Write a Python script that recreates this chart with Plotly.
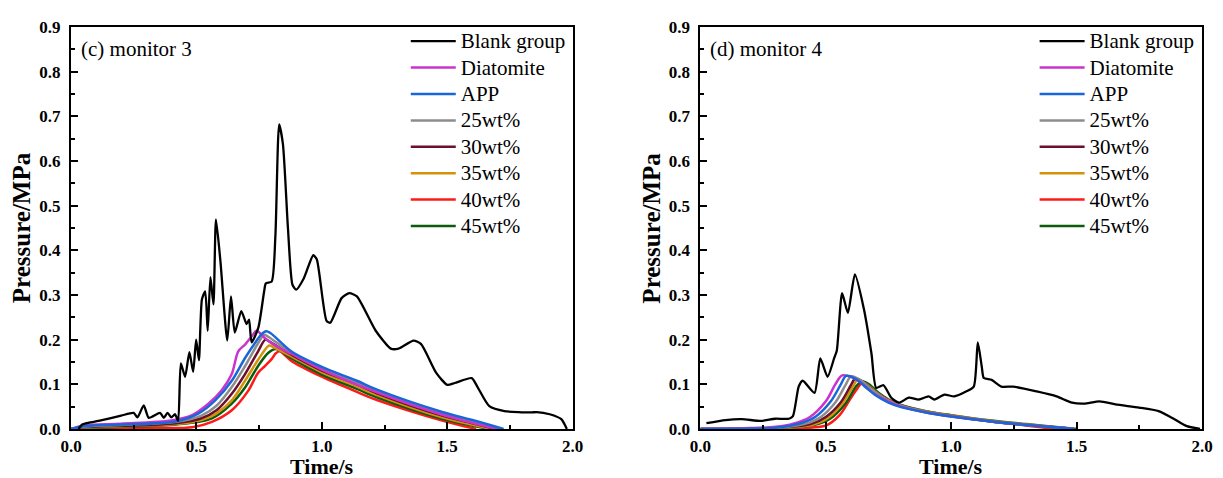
import plotly.graph_objects as go
from plotly.subplots import make_subplots

series_names = ["Blank group", "Diatomite", "APP", "25wt%", "30wt%", "35wt%", "40wt%", "45wt%"]
series_colors = ["#000000", "#cc33cc", "#1a66d9", "#8c8c8c", "#6b0f2f", "#d4920a", "#ff1a1a", "#0d5c0d"]
panel_labels = ["(c) monitor 3", "(d) monitor 4"]
x_ticks = [0.0, 0.5, 1.0, 1.5, 2.0]
y_ticks = [0.0, 0.1, 0.2, 0.3, 0.4, 0.5, 0.6, 0.7, 0.8, 0.9]

# ---------------- monitor 3 ----------------
blank3_t = [0.03, 0.045, 0.11, 0.2, 0.25, 0.265, 0.29, 0.31, 0.355, 0.37, 0.385, 0.40, 0.415, 0.427,
            0.438, 0.455, 0.472, 0.487, 0.499, 0.51, 0.522, 0.535, 0.545, 0.556, 0.568, 0.578, 0.596,
            0.623, 0.638, 0.653, 0.679, 0.70, 0.71, 0.72, 0.747, 0.77, 0.777, 0.80, 0.815, 0.83, 0.845,
            0.865, 0.883, 0.898, 0.928, 0.966, 0.98, 1.019, 1.034, 1.079, 1.11, 1.14, 1.215, 1.275,
            1.306, 1.366, 1.396, 1.457, 1.50, 1.53, 1.598, 1.62, 1.668, 1.728, 1.834, 1.857, 1.909,
            1.955, 1.977]
blank3_p = [0.0, 0.01, 0.018, 0.03, 0.036, 0.026, 0.053, 0.025, 0.036, 0.025, 0.036, 0.026, 0.033, 0.018,
            0.147, 0.117, 0.172, 0.128, 0.2, 0.154, 0.29, 0.308, 0.22, 0.34, 0.279, 0.469, 0.374,
            0.198, 0.297, 0.216, 0.264, 0.235, 0.245, 0.194, 0.227, 0.308, 0.326, 0.33, 0.433, 0.682, 0.638,
            0.45, 0.323, 0.312, 0.337, 0.389, 0.38, 0.242, 0.238, 0.293, 0.304, 0.297, 0.22, 0.18,
            0.18, 0.198, 0.19, 0.125, 0.099, 0.103, 0.114, 0.095, 0.051, 0.04, 0.037, 0.038, 0.033,
            0.022, 0.0]

diat3_t = [0.0, 0.05, 0.2, 0.4, 0.483, 0.549, 0.6, 0.641, 0.667, 0.694, 0.72, 0.74, 0.77, 0.82, 0.88, 1.0, 1.22, 1.48, 1.70]
diat3_p = [0.0, 0.008, 0.012, 0.019, 0.031, 0.057, 0.086, 0.123, 0.174, 0.189, 0.207, 0.22, 0.205, 0.185, 0.168, 0.133, 0.082, 0.032, 0.0]

app3_t = [0.0, 0.05, 0.2, 0.417, 0.509, 0.575, 0.641, 0.694, 0.733, 0.759, 0.778, 0.795, 0.878, 1.0, 1.14, 1.22, 1.48, 1.6, 1.725]
app3_p = [0.0, 0.006, 0.01, 0.017, 0.035, 0.064, 0.108, 0.159, 0.192, 0.212, 0.219, 0.215, 0.174, 0.139, 0.108, 0.088, 0.038, 0.02, 0.0]

w25_3_t = [0.0, 0.05, 0.2, 0.42, 0.52, 0.58, 0.641, 0.694, 0.746, 0.77, 0.785, 0.88, 1.0, 1.14, 1.22, 1.48, 1.6, 1.715]
w25_3_p = [0.0, 0.005, 0.009, 0.016, 0.03, 0.052, 0.094, 0.141, 0.192, 0.211, 0.207, 0.17, 0.135, 0.104, 0.084, 0.034, 0.016, 0.0]

w30_3_t = [0.0, 0.05, 0.2, 0.42, 0.52, 0.58, 0.641, 0.694, 0.746, 0.775, 0.79, 0.88, 1.0, 1.14, 1.22, 1.48, 1.6, 1.695]
w30_3_p = [0.0, 0.004, 0.007, 0.013, 0.024, 0.042, 0.079, 0.123, 0.174, 0.2, 0.196, 0.166, 0.131, 0.1, 0.08, 0.03, 0.013, 0.0]

w35_3_t = [0.0, 0.05, 0.2, 0.42, 0.52, 0.58, 0.641, 0.694, 0.746, 0.79, 0.805, 0.88, 1.0, 1.14, 1.22, 1.48, 1.68]
w35_3_p = [0.0, 0.003, 0.006, 0.011, 0.02, 0.035, 0.064, 0.108, 0.155, 0.187, 0.184, 0.162, 0.127, 0.095, 0.076, 0.026, 0.0]

w40_3_t = [0.0, 0.1, 0.35, 0.483, 0.562, 0.641, 0.707, 0.746, 0.773, 0.799, 0.818, 0.832, 0.88, 1.0, 1.14, 1.22, 1.48, 1.615]
w40_3_p = [0.0, 0.001, 0.002, 0.004, 0.016, 0.042, 0.086, 0.126, 0.141, 0.156, 0.17, 0.174, 0.152, 0.117, 0.083, 0.065, 0.019, 0.0]

w45_3_t = [0.0, 0.05, 0.2, 0.42, 0.562, 0.641, 0.694, 0.746, 0.786, 0.815, 0.832, 0.88, 1.0, 1.14, 1.22, 1.48, 1.667]
w45_3_p = [0.0, 0.002, 0.005, 0.01, 0.024, 0.057, 0.093, 0.141, 0.17, 0.179, 0.176, 0.158, 0.122, 0.09, 0.071, 0.023, 0.0]

# ---------------- monitor 4 ----------------
blank4_t = [0.024, 0.10, 0.165, 0.243, 0.298, 0.353, 0.369, 0.392, 0.408, 0.455, 0.478, 0.507, 0.533,
            0.544, 0.565, 0.588, 0.616, 0.651, 0.682, 0.701, 0.73, 0.761, 0.792, 0.831, 0.871, 0.91,
            0.933, 0.973, 1.012, 1.059, 1.09, 1.106, 1.122, 1.13, 1.161, 1.2, 1.247, 1.341, 1.42,
            1.482, 1.53, 1.592, 1.655, 1.749, 1.827, 1.89, 1.937, 1.992]
blank4_p = [0.013, 0.02, 0.022, 0.018, 0.023, 0.023, 0.029, 0.095, 0.108, 0.081, 0.158, 0.117, 0.158,
            0.176, 0.304, 0.26, 0.346, 0.271, 0.169, 0.092, 0.098, 0.07, 0.059, 0.07, 0.066, 0.073,
            0.066, 0.077, 0.073, 0.084, 0.095, 0.194, 0.139, 0.114, 0.11, 0.095, 0.095, 0.084, 0.073,
            0.059, 0.057, 0.062, 0.055, 0.048, 0.04, 0.022, 0.007, 0.0]

diat4_t = [0.0, 0.2, 0.3, 0.37, 0.437, 0.5, 0.54, 0.565, 0.6, 0.64, 0.69, 0.75, 0.8, 0.9, 1.0, 1.16, 1.3, 1.45, 1.49]
diat4_p = [0.0, 0.002, 0.005, 0.012, 0.027, 0.062, 0.102, 0.12, 0.117, 0.104, 0.08, 0.061, 0.05, 0.037, 0.028, 0.017, 0.009, 0.002, 0.0]

app4_t = [0.0, 0.2, 0.3, 0.4, 0.46, 0.52, 0.56, 0.581, 0.62, 0.66, 0.7, 0.75, 0.8, 0.9, 1.0, 1.16, 1.3, 1.45, 1.49]
app4_p = [0.0, 0.001, 0.003, 0.013, 0.028, 0.062, 0.1, 0.119, 0.112, 0.093, 0.075, 0.059, 0.049, 0.037, 0.028, 0.017, 0.009, 0.002, 0.0]

w25_4_t = [0.0, 0.2, 0.3, 0.42, 0.48, 0.54, 0.58, 0.601, 0.64, 0.68, 0.72, 0.75, 0.8, 0.9, 1.0, 1.16, 1.3, 1.45, 1.49]
w25_4_p = [0.0, 0.001, 0.002, 0.012, 0.027, 0.061, 0.1, 0.118, 0.109, 0.09, 0.074, 0.064, 0.052, 0.038, 0.029, 0.017, 0.009, 0.002, 0.0]

w30_4_t = [0.0, 0.2, 0.3, 0.44, 0.5, 0.56, 0.6, 0.618, 0.65, 0.69, 0.73, 0.8, 0.9, 1.0, 1.16, 1.3, 1.45, 1.49]
w30_4_p = [0.0, 0.001, 0.002, 0.011, 0.027, 0.06, 0.098, 0.113, 0.105, 0.086, 0.071, 0.052, 0.038, 0.029, 0.017, 0.009, 0.002, 0.0]

w35_4_t = [0.0, 0.2, 0.3, 0.45, 0.51, 0.57, 0.61, 0.627, 0.66, 0.7, 0.74, 0.8, 0.9, 1.0, 1.16, 1.3, 1.45, 1.49]
w35_4_p = [0.0, 0.0, 0.001, 0.01, 0.025, 0.06, 0.097, 0.11, 0.101, 0.083, 0.068, 0.053, 0.039, 0.03, 0.018, 0.01, 0.002, 0.0]

w40_4_t = [0.0, 0.3, 0.44, 0.502, 0.555, 0.594, 0.62, 0.642, 0.67, 0.71, 0.75, 0.8, 0.9, 1.0, 1.16, 1.3, 1.41]
w40_4_p = [0.0, 0.0, 0.003, 0.008, 0.031, 0.064, 0.086, 0.101, 0.096, 0.079, 0.064, 0.053, 0.039, 0.03, 0.017, 0.008, 0.0]

w45_4_t = [0.0, 0.2, 0.3, 0.46, 0.52, 0.58, 0.62, 0.644, 0.67, 0.71, 0.75, 0.8, 0.9, 1.0, 1.16, 1.3, 1.45, 1.5]
w45_4_p = [0.0, 0.0, 0.001, 0.01, 0.024, 0.058, 0.095, 0.107, 0.101, 0.081, 0.066, 0.054, 0.04, 0.031, 0.019, 0.011, 0.003, 0.0]

panel3 = [(blank3_t, blank3_p), (diat3_t, diat3_p), (app3_t, app3_p), (w25_3_t, w25_3_p),
          (w30_3_t, w30_3_p), (w35_3_t, w35_3_p), (w40_3_t, w40_3_p), (w45_3_t, w45_3_p)]
panel4 = [(blank4_t, blank4_p), (diat4_t, diat4_p), (app4_t, app4_p), (w25_4_t, w25_4_p),
          (w30_4_t, w30_4_p), (w35_4_t, w35_4_p), (w40_4_t, w40_4_p), (w45_4_t, w45_4_p)]

SERIF = "Times New Roman, Liberation Serif, serif"

fig = make_subplots(rows=1, cols=2, horizontal_spacing=0.113)

draw_order = [6, 7, 5, 4, 3, 1, 2, 0]
for col, (panel, legend_id) in enumerate([(panel3, "legend"), (panel4, "legend2")], start=1):
    traces = {}
    for i in range(len(series_names)):
        t, p = panel[i]
        traces[i] = go.Scatter(
            x=t, y=p, mode="lines",
            name='<span style="font-size:21px">' + series_names[i] + "</span>",
            line=dict(color=series_colors[i], width=2.3 if i == 0 else 2.5,
                      shape="spline", smoothing=0.6 if i == 0 else 0.9),
            legend=legend_id, legendrank=i + 1,
        )
    for i in draw_order:
        fig.add_trace(traces[i], row=1, col=col)

axis_common = dict(
    showline=True, linewidth=2, linecolor="black", mirror=True,
    ticks="inside", ticklen=7, tickwidth=2, tickcolor="black",
    showgrid=False, zeroline=False,
    tickfont=dict(family=SERIF, size=17, color="black", weight="bold"),
)
for col in (1, 2):
    fig.update_xaxes(range=[0, 2.0], tickvals=x_ticks, ticktext=[f"{v:.1f}" for v in x_ticks],
                     minor=dict(ticks="inside", ticklen=4, tickwidth=2, tickcolor="black", dtick=0.25, tick0=0),
                     ticklabelstandoff=1, **axis_common, row=1, col=col)
    fig.update_yaxes(range=[0, 0.9], tickvals=y_ticks, ticktext=[f"{v:.1f}" for v in y_ticks],
                     minor=dict(ticks="inside", ticklen=4, tickwidth=2, tickcolor="black", dtick=0.05, tick0=0),
                     ticklabelstandoff=5, **axis_common, row=1, col=col)

# the page body adds an 8px offset, so the figure is sized to the remaining window area
fig.update_layout(
    width=1215, height=470,
    margin=dict(l=63, r=10, t=13, b=49),
    paper_bgcolor="white", plot_bgcolor="white",
    font=dict(family=SERIF, color="black"),
    legend=dict(x=0.296, y=1.01, xanchor="left", yanchor="top", bgcolor="rgba(0,0,0,0)",
                font=dict(family=SERIF, size=18, color="black"), itemwidth=45, tracegroupgap=0),
    legend2=dict(x=0.852, y=1.01, xanchor="left", yanchor="top", bgcolor="rgba(0,0,0,0)",
                 font=dict(family=SERIF, size=18, color="black"), itemwidth=45, tracegroupgap=0),
)

dom1 = fig.layout.xaxis.domain
dom2 = fig.layout.xaxis2.domain
annotations = []
for k, dom in enumerate([dom1, dom2]):
    annotations.append(dict(text=panel_labels[k], xref="paper", yref="paper",
                            x=dom[0] + 0.007, y=0.946, xanchor="left", yanchor="middle",
                            showarrow=False, font=dict(family=SERIF, size=21, color="black")))
    annotations.append(dict(text="<b>Time/s</b>", xref="paper", yref="paper",
                            x=(dom[0] + dom[1]) / 2, y=-0.093, xanchor="center", yanchor="middle",
                            showarrow=False, font=dict(family=SERIF, size=22, color="black")))
    annotations.append(dict(text="<b>Pressure/MPa</b>", xref="paper", yref="paper",
                            x=dom[0] - 0.044, y=0.5, xanchor="center", yanchor="middle", textangle=-90,
                            showarrow=False, font=dict(family=SERIF, size=25, color="black")))
fig.update_layout(annotations=annotations)

fig.write_html("out.html")
